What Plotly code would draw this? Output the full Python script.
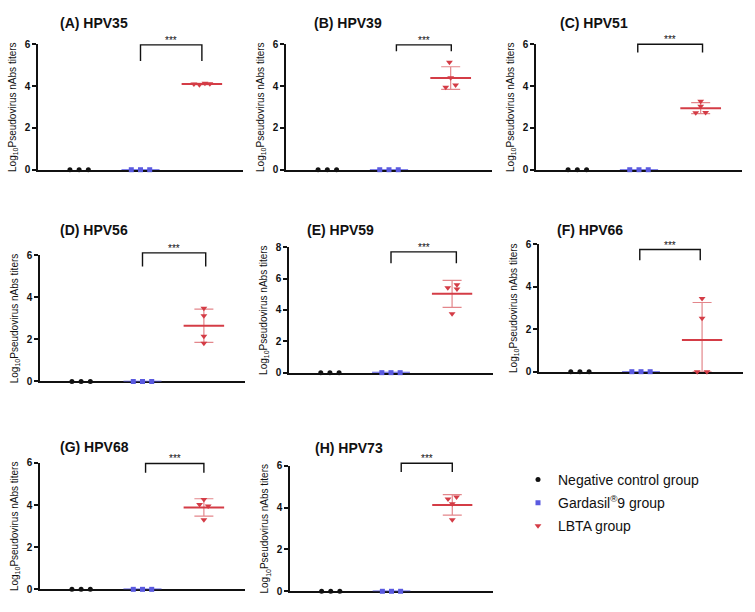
import plotly.graph_objects as go
import numpy as np

# ---------------- data ----------------
panel_titles = ["(A) HPV35", "(B) HPV39", "(C) HPV51", "(D) HPV56",
                "(E) HPV59", "(F) HPV66", "(G) HPV68", "(H) HPV73"]
group_names = ["Negative control group", "Gardasil<sup>®</sup>9 group", "LBTA group"]

neg_control = [[0, 0, 0]] * 8
gardasil9 = [[0, 0, 0]] * 8
lbta_A = [4.10, 4.06, 4.13, 4.11]
lbta_B = [4.40, 3.94, 4.05, 5.14]
lbta_C = [3.04, 2.72, 2.74, 3.27]
lbta_D = [3.48, 3.12, 2.15, 1.81]
lbta_E = [5.42, 5.60, 5.33, 3.75]
lbta_F = [3.45, 2.52, 0.00, 0.00]
lbta_G = [4.26, 4.03, 3.95, 3.30]
lbta_H = [4.41, 4.51, 4.18, 3.42]
lbta = [lbta_A, lbta_B, lbta_C, lbta_D, lbta_E, lbta_F, lbta_G, lbta_H]
y_max = [6, 6, 6, 6, 8, 6, 6, 6]
y_ticks = [[0, 2, 4, 6]] * 4 + [[0, 2, 4, 6, 8]] + [[0, 2, 4, 6]] * 3
significance = ["***"] * 8

# ---------------- layout / style ----------------
W, H = 755, 612
# pixel boxes: (left, right, top, bottom)
boxes = [(38, 243, 39, 167), (286, 492, 39, 167), (536, 742, 39, 167),
         (40, 245, 254, 383), (289, 493, 246, 374), (539, 743, 243, 373),
         (40, 245, 466, 595), (290, 493, 469, 597)]
title_pos = [(58, 17), (312, 17), (558, 17),
             (58, 228), (305, 228), (555, 228),
             (58, 450), (313, 451)]
lbta_jitter = [[-0.13, -0.04, 0.05, 0.13], [0.0, -0.08, 0.08, -0.02],
               [0.0, -0.08, 0.08, 0.0], [0.0, 0.0, 0.0, 0.0],
               [-0.07, 0.08, 0.08, 0.0], [0.0, 0.0, -0.08, 0.08],
               [0.0, -0.07, 0.07, 0.0], [-0.07, 0.07, 0.0, 0.0]]
# bracket: x0, x1, top, leg bottom (data units)
brackets = [(2.0, 3.0, 5.97, 5.2), (2.12, 3.01, 5.97, 5.66), (1.98, 3.03, 6.0, 5.6),
            (2.0, 3.03, 6.1, 5.45), (2.0, 3.07, 7.7, 6.98), (1.98, 2.97, 5.75, 5.25),
            (2.05, 3.0, 5.97, 5.53), (2.16, 3.0, 6.12, 5.7)]
small_jitter = [-0.15, 0.0, 0.15]
XR = [0.33, 3.67]

BLACK = "#111111"
BLUE = "#5a5ae0"
RED = "#d43c46"
RED_ERR = "#e3868b"
FONT = "Liberation Sans, Arial, sans-serif"

fig = go.Figure()
layout = dict(width=W, height=H, margin=dict(l=0, r=0, t=0, b=0),
              plot_bgcolor="white", paper_bgcolor="white", showlegend=True)
annotations = []
shapes = []

for i in range(8):
    n = i + 1
    xa = "x" if n == 1 else f"x{n}"
    ya = "y" if n == 1 else f"y{n}"
    l, r, t, b = boxes[i]
    layout[f"xaxis{'' if n == 1 else n}"] = dict(
        domain=[l / W, r / W], range=XR, showgrid=False, zeroline=False,
        showline=True, linecolor=BLACK, linewidth=1.6, ticks="",
        showticklabels=False, anchor=ya, fixedrange=True, layer="below traces")
    layout[f"yaxis{'' if n == 1 else n}"] = dict(
        domain=[1 - b / H, 1 - t / H], range=[0, y_max[i]], showgrid=False,
        zeroline=False, showline=True, linecolor=BLACK, linewidth=1.6,
        ticks="outside", ticklen=4, tickwidth=1.5, tickcolor=BLACK,
        tickvals=y_ticks[i], tickfont=dict(family=FONT, size=10, color=BLACK, weight="bold"),
        anchor=xa, fixedrange=True, layer="below traces")

    # negative control
    fig.add_trace(go.Scatter(
        x=[1 + j for j in small_jitter], y=neg_control[i], mode="markers",
        marker=dict(symbol="circle", size=5, color=BLACK),
        name=group_names[0], showlegend=(i == 0), legendgroup="g0",
        xaxis=xa, yaxis=ya, cliponaxis=False))
    # gardasil mean line + points
    gm = float(np.mean(gardasil9[i]))
    fig.add_trace(go.Scatter(
        x=[2 - 0.31, 2 + 0.31], y=[gm, gm], mode="lines",
        line=dict(color=BLUE, width=1.6), showlegend=False,
        xaxis=xa, yaxis=ya, cliponaxis=False, hoverinfo="skip"))
    fig.add_trace(go.Scatter(
        x=[2 + j for j in small_jitter], y=gardasil9[i], mode="markers",
        marker=dict(symbol="square", size=5, color=BLUE),
        name=group_names[1], showlegend=(i == 0), legendgroup="g1",
        xaxis=xa, yaxis=ya, cliponaxis=False))
    # LBTA
    vals = np.array(lbta[i])
    m = float(vals.mean())
    sd = float(vals.std(ddof=1))
    fig.add_trace(go.Scatter(
        x=[3], y=[m], mode="markers", marker=dict(size=1, color="rgba(0,0,0,0)"),
        error_y=dict(type="data", array=[sd], arrayminus=[min(sd, m)],
                     color=RED_ERR, thickness=1.2, width=9.5),
        showlegend=False, xaxis=xa, yaxis=ya, cliponaxis=False, hoverinfo="skip"))
    fig.add_trace(go.Scatter(
        x=[3 - 0.33, 3 + 0.33], y=[m, m], mode="lines",
        line=dict(color=RED, width=2), showlegend=False,
        xaxis=xa, yaxis=ya, cliponaxis=False, hoverinfo="skip"))
    fig.add_trace(go.Scatter(
        x=[3 + j for j in lbta_jitter[i]], y=lbta[i], mode="markers",
        marker=dict(symbol="triangle-down", size=6, color=RED),
        name=group_names[2], showlegend=(i == 0), legendgroup="g2",
        xaxis=xa, yaxis=ya, cliponaxis=False))

    # significance bracket (y in axis-domain fraction so it is not clipped)
    x0, x1, bt, bb = brackets[i]
    ydr = f"{ya} domain"
    ft, fb = bt / y_max[i], bb / y_max[i]
    shapes.append(dict(type="path", xref=xa, yref=ydr,
                       path=f"M {x0} {fb} L {x0} {ft} L {x1} {ft} L {x1} {fb}",
                       line=dict(color=BLACK, width=1.4)))
    annotations.append(dict(x=(x0 + x1) / 2, y=ft, xref=xa, yref=ydr, text=significance[i],
                            showarrow=False, yanchor="bottom", yshift=-3,
                            font=dict(family=FONT, size=10, color=BLACK)))
    # panel title
    tx, ty = title_pos[i]
    annotations.append(dict(x=tx / W, y=1 - ty / H, xref="paper", yref="paper",
                            text=f"<b>{panel_titles[i]}</b>", showarrow=False,
                            xanchor="left", yanchor="middle",
                            font=dict(family=FONT, size=14, color=BLACK)))
    # y-axis title
    annotations.append(dict(x=(l - 25) / W, y=1 - (t + b) / 2 / H, xref="paper", yref="paper",
                            text="Log<sub>10</sub>Pseudovirus nAbs titers", showarrow=False,
                            textangle=-90, xanchor="center", yanchor="middle",
                            font=dict(family=FONT, size=10, color=BLACK)))

layout["annotations"] = annotations
layout["shapes"] = shapes
layout["legend"] = dict(x=518 / W, y=1 - 467 / H, xanchor="left", yanchor="top",
                        font=dict(family=FONT, size=14, color=BLACK),
                        bgcolor="rgba(0,0,0,0)", itemsizing="trace",
                        traceorder="grouped", tracegroupgap=2)
fig.update_layout(**layout)
fig.write_html("out.html", config={"displayModeBar": False},
               post_script="document.body.style.margin='0px';")
